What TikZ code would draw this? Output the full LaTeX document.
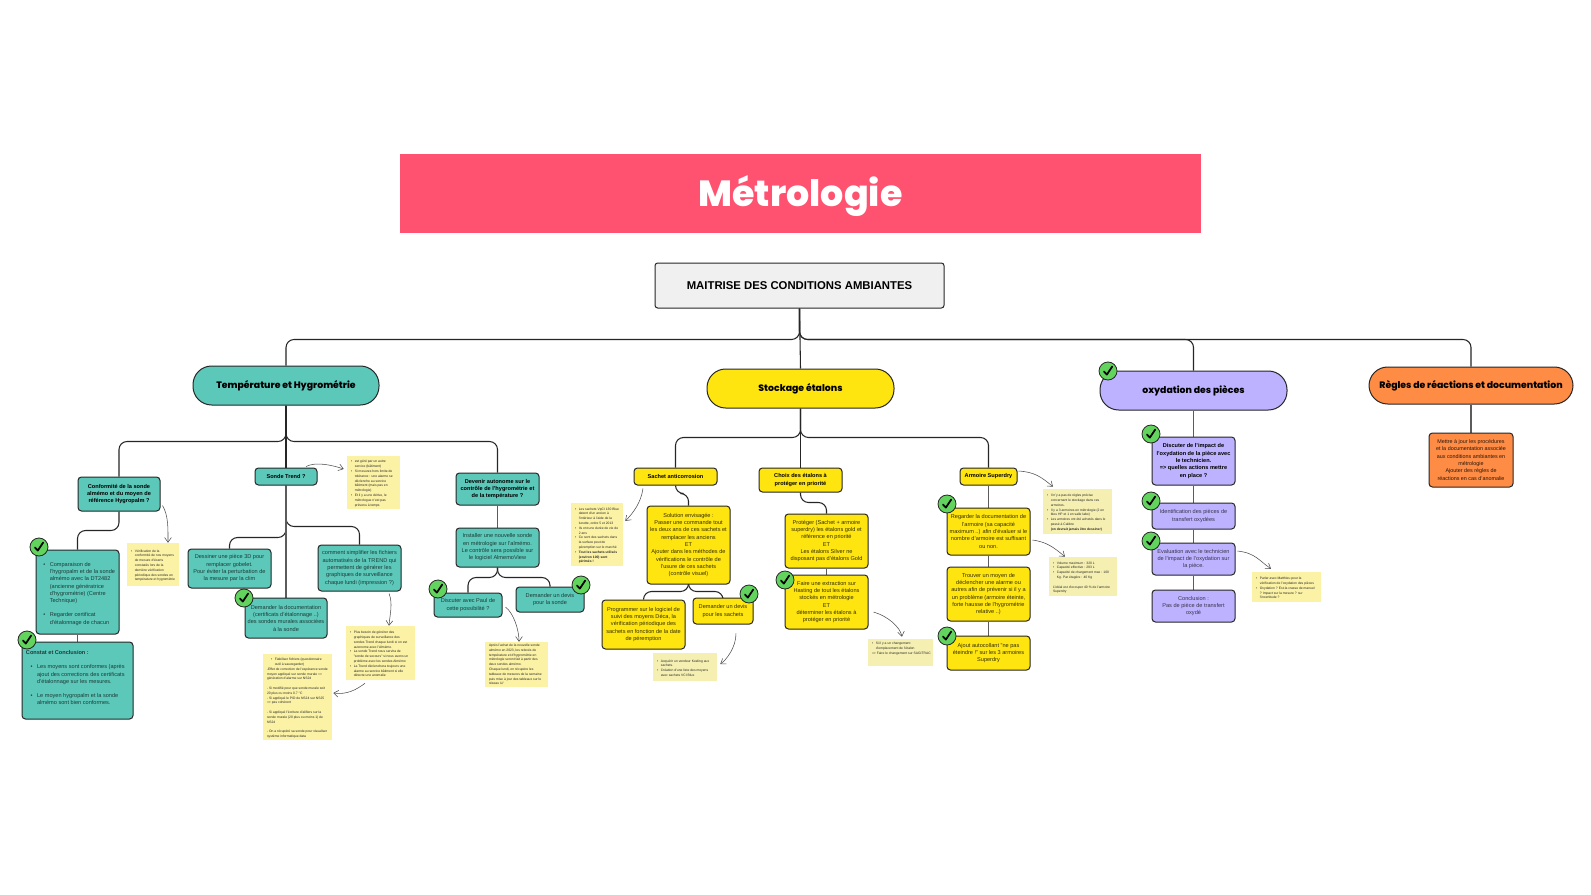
\documentclass[tikz,border=0pt]{standalone}
\usepackage{fontspec}
\setmainfont{Liberation Sans}
\newfontfamily\popf[BoldFont={Poppins ExtraBold}]{Poppins}
\usetikzlibrary{arrows.meta,backgrounds,calc}
\definecolor{cteal}{HTML}{5CC8B9}
\definecolor{cyell}{HTML}{FFE510}
\definecolor{cviol}{HTML}{BDB2FF}
\definecolor{coran}{HTML}{FF8C45}
\definecolor{cred}{HTML}{FF5270}
\definecolor{cnote}{HTML}{FBF2A6}
\definecolor{cnoteb}{HTML}{F5F0B2}
\definecolor{cline}{HTML}{262626}
\definecolor{cgreen}{HTML}{62D45E}
\newcommand{\mybox}[7]{%
 \pgfmathsetmacro\cxx{(#3+#5)/2}\pgfmathsetmacro\cyy{(#4+#6)/2}%
 \pgfmathsetmacro\ww{(#5-#3)*0.75}\pgfmathsetmacro\hh{(#6-#4)*0.75}%
 \node[#2,minimum width=\ww pt,minimum height=\hh pt] (#1) at (\cxx,\cyy) {#7};}
\newcommand{\itm}[2][0pt]{\par\leftskip=#1\relax\noindent\hangindent=1.15em\hangafter=1\makebox[1.15em][l]{•}#2\par}
\newcommand{\chk}[3]{%
 \node[chkmark] (#1) at (#2,#3) {};
 \draw[chkstroke] ([shift={(-4,0.5)}]#1.center) -- ([shift={(-1.2,3.6)}]#1.center) -- ([shift={(4.2,-4.5)}]#1.center);}
\tikzset{
 wrap/.style={text width=\ww pt-6pt},
 boxb/.style={draw=cline,line width=0.75pt,rounded corners=2.6pt,inner xsep=0pt,inner ysep=0pt,align=center,font=\fontsize{4.2}{5.5}\selectfont},
 tealb/.style={boxb,fill=cteal,text=black!70!cteal},
 yellb/.style={boxb,fill=cyell,text=black!80!cyell},
 violb/.style={boxb,fill=cviol,text=black!70!cviol},
 oranb/.style={boxb,fill=coran,text=black!85!coran,font=\fontsize{4.05}{5.5}\selectfont},
 headb/.style={font=\bfseries\fontsize{4.2}{5.55}\selectfont,text=black},
 pillb/.style={boxb,rounded corners=14pt,font=\popf\bfseries\fontsize{7}{8}\selectfont,text=black},
 noteb/.style={wrap,fill=cnote,inner xsep=0pt,inner ysep=0pt,align=flush left,font=\fontsize{2.5}{3.6}\selectfont,text=black!85},
 noteq/.style={noteb,fill=cnoteb},
 conn/.style={draw=cline,line width=0.8pt,rounded corners=6pt},
 conng/.style={draw=cline!75,line width=1.1pt},
 aro/.style={draw=black!70,line width=0.4pt,-{Straight Barb[length=3.5pt,width=5pt]}},
 chkmark/.style={circle,draw=cline,line width=0.6pt,fill=cgreen,minimum size=13.5pt,inner sep=0pt},
 chkstroke/.style={draw=black,line width=1.3pt,line cap=round,line join=round},
}
\begin{document}
\begin{tikzpicture}[x=0.75pt,y=-0.75pt]
\useasboundingbox (0,0) rectangle (1591,895);
% title
\mybox{title}{fill=cred,inner sep=0pt,align=center,font=\popf\bfseries\fontsize{27.3}{30}\selectfont,text=white}{400}{154}{1201}{233}{\raisebox{-9.8pt}[12pt][12pt]{Métrologie}}
\mybox{maitrise}{boxb,fill=black!6,font=\bfseries\fontsize{8.5}{9}\selectfont,text=black,rounded corners=2pt}{655}{263}{944}{308}{MAITRISE DES CONDITIONS AMBIANTES}
% pills
\mybox{temp}{pillb,fill=cteal}{193}{366}{379}{405}{Température et Hygrométrie}
\mybox{stock}{pillb,fill=cyell}{707}{369}{894}{408}{Stockage étalons}
\mybox{oxy}{pillb,fill=cviol}{1100}{371}{1287}{410}{oxydation des pièces}
\mybox{regles}{pillb,fill=coran}{1369}{367}{1573}{404}{Règles de réactions et documentation}
% teal
\mybox{conf}{tealb,headb}{78}{477}{160}{511}{Conformité de la sonde\\almémo et du moyen de\\référence Hygropalm ?}
\mybox{compa}{tealb,wrap,align=flush left}{36}{550}{119}{634}{\itm[2.5pt]{Comparaison de\newline l'hygropalm et de la sonde\newline almémo avec la DT2482\newline (ancienne génératrice\newline d'hygrométrie) (Centre\newline Technique)}\vspace{5pt}\itm[2.5pt]{Regarder certificat\newline d'étalonnage de chacun}}
\mybox{constat}{tealb,wrap,align=flush left}{22}{642}{133}{719}{{\bfseries Constat et Conclusion :}\par\vspace{5pt}\itm[3.5pt]{Les moyens sont conformes (après ajout des corrections des certificats d'étalonnage sur les mesures.}\vspace{5pt}\itm[3.5pt]{Le moyen hygropalm et la sonde almémo sont bien conformes.}\vspace{4pt}}
\mybox{trend}{tealb,headb}{255}{468}{317}{485}{Sonde Trend ?}
\mybox{dess}{tealb}{188}{549}{271}{588}{Dessiner une pièce 3D pour\\remplacer gobelet.\\Pour éviter la perturbation de\\la mesure par la clim}
\mybox{docu}{tealb}{245}{598}{327}{638}{Demander la documentation\\(certificats d'étalonnage ..)\\des sondes murales associées\\à la sonde}
\mybox{comm}{tealb}{318}{545}{401}{591}{comment simplifier les fichiers\\automatisés de la TREND qui\\permettent de générer les\\graphiques de surveillance\\chaque lundi (impression ?)}
\mybox{dev}{tealb,headb}{456}{473}{539}{505}{Devenir autonome sur le\\contrôle de l'hygrométrie et\\de la température ?}
\mybox{inst}{tealb}{456}{528}{539}{567}{Installer une nouvelle sonde\\en métrologie sur l'almémo.\\Le contrôle sera possible sur\\le logiciel AlmemoView}
\mybox{paul}{tealb}{434}{593}{502}{617}{Discuter avec Paul de\\cette possibilité ?}
\mybox{devis}{tealb}{516}{587}{584}{612}{Demander un devis\\pour la sonde}
% yellow
\mybox{sachet}{yellb,headb}{634}{468}{717}{485}{Sachet anticorrosion}
\mybox{solu}{yellb}{647}{506}{730}{584}{Solution envisagée :\\Passer une commande tout\\les deux ans de ces sachets et\\remplacer les anciens\\ET\\Ajouter dans les méthodes de\\vérifications le contrôle de\\l'usure de ces sachets\\(contrôle visuel)}
\mybox{prog}{yellb}{602}{600}{685}{649}{Programmer sur le logiciel de\\suivi des moyens Déca, la\\vérification périodique des\\sachets en fonction de la date\\de péremption}
\mybox{devs}{yellb}{693}{598}{753}{624}{Demander un devis\\pour les sachets}
\mybox{choix}{yellb,headb}{759}{468}{842}{492}{Choix des étalons à\\protéger en priorité}
\mybox{prot}{yellb}{785}{514}{868}{568}{Protéger (Sachet + armoire\\superdry) les étalons gold et\\référence en priorité\\ET\\Les étalons Silver ne\\disposant pas d'étalons Gold}
\mybox{faire}{yellb}{785}{575}{868}{629}{Faire une extraction sur\\Hasting de tout les étalons\\stockés en métrologie\\ET\\déterminer les étalons à\\protéger en priorité}
\mybox{arm}{yellb,headb}{960}{468}{1017}{485}{Armoire Superdry}
\mybox{reg}{yellb}{947}{508}{1030}{555}{Regarder la documentation de\\l'armoire (sa capacité\\maximum ..) afin d'évaluer si le\\nombre d'armoire est suffisant\\ou non.}
\mybox{trou}{yellb}{947}{567}{1030}{621}{Trouver un moyen de\\déclencher une alarme ou\\autres afin de prévenir si il y a\\un problème (armoire éteinte,\\forte hausse de l'hygrométrie\\relative ..)}
\mybox{ajout}{yellb}{947}{636}{1030}{670}{Ajout autocollant "ne pas\\éteindre !" sur les 3 armoires\\Superdry}
% violet
\mybox{impact}{violb,headb}{1152}{437}{1235}{485}{Discuter de l'impact de\\l'oxydation de la pièce avec\\le technicien.\\=> quelles actions mettre\\en place ?}
\mybox{ident}{violb}{1152}{503}{1235}{529}{Identification des pièces de\\transfert oxydées}
\mybox{eval}{violb}{1152}{543}{1235}{575}{Evaluation avec le technicien\\de l'impact de l'oxydation sur\\la pièce.}
\mybox{concl}{violb}{1152}{590}{1235}{622}{Conclusion :\\Pas de pièce de transfert\\oxydé}
% orange
\mybox{mettre}{oranb}{1429}{433}{1513}{487}{Mettre à jour les procédures\\et la documentation associée\\aux conditions ambiantes en\\métrologie\\Ajouter des règles de\\réactions en cas d'anomalie}
% notes
\mybox{nverif}{noteb}{127}{543}{179}{586}{\itm{Vérification de la conformité de nos moyens de mesure d'écarts constatés lors de la dernière vérification périodique des sondes en température et hygrométrie}}
\mybox{ntrend}{noteb}{347}{456}{400}{509}{\itm{est géré par un autre service (bâtiment)}\itm{Si mesures hors limite de tolérance : une alarme se déclenche au service bâtiment (mais pas en métrologie)}\itm{Et il y a une dérive, le métrologue n'est pas prévenu à temps}}
\mybox{npas}{noteb}{346}{626}{415}{680}{\itm{Plus besoin de générer des graphiques de surveillance des sondes Trend chaque lundi si on est autonome avec l'Almémo.}\itm{La sonde Trend nous servira de "sonde de secours" si nous avons un problème avec les sondes Almémo}\itm{La Trend déclenchera toujours une alarme au service bâtiment si elle détecte une anomalie}}
\mybox{nfiab}{noteb}{263}{654}{332}{740}{\itm[3pt]{Fiabiliser fichiers (questionnaire outil à sauvegarder)}\leftskip=0pt -Effet de correction de l'espérance sonde moyen appliqué sur sonde murale => génération d'alarme sur NS24\par\vspace{3.6pt}- Si modifié pour que sonde murale soit 20 plus ou moins 0.7 °C\par - Si appliqué le PID de NS24 sur NS25 => pas cohérent\par\vspace{3.6pt}- Si appliqué l'écriture d'alifiers sur la sonde murale (20 plus ou moins 1) de NS24\par\vspace{3.6pt}- On a récupéré sa sonde pour visualiser système informatique data}
\mybox{ndisc}{noteb}{485}{642}{548}{687}{Après l'achat de la nouvelle sonde almémo en 2023, les relevés de température et d'hygrométrie en métrologie seront fait à partir des deux sondes almémo.\par Chaque lundi, on récupère les tableaux de mesures de la semaine puis mise à jour des tableaux sur le réseau U/}
\mybox{nsach}{noteb}{571}{503}{623}{566}{\itm{Les sachets VpCI 130 Blue datent d'un ancien à l'intérieur à l'aide de la lunette, ordre 5 et 2013}\itm{Ils ont une durée de vie de 2 ans}\itm{Ce sont des sachets dans la surface peut de péremption sur le marché}\itm{\bfseries Tout les sachets utilisés (environ 100) sont périmés !}}
\mybox{ndevs}{noteq}{653}{653}{717}{681}{\itm{Acquérir un vendeur Keeling aux sachets.}\itm{Création d'une liste des moyens avec sachets VCI Blue}}
\mybox{nfaire}{noteq}{868}{639}{933}{666}{\itm{Si il y a un changement d'emplacement de l'étalon}\mbox{=> Faire le changement sur SAGITRAC}\vspace{8pt}}
\mybox{narm}{noteq}{1043}{489}{1112}{534}{\itm{Il n'y a pas de règles précise concernant le stockage dans ces armoires.}\itm{Il y a 3 armoires en métrologie (2 en bleu HP et 1 en salle labo)}\itm{Les armoires ont été achetés dans le passé à Calibre}\hspace*{1.15em}{\bfseries (on devrait jamais être dessiner)}}
\mybox{narb}{noteq}{1049}{557}{1117}{596}{\itm{Volume maximum : 320 L}\itm{Capacité effective : 293 L}\itm{Capacité de chargement max : 100 Kg. Par étagère : 40 Kg}\vspace{3.6pt}L'idéal est d'occuper 40 \% de l'armoire Superdry}
\mybox{noxy}{noteb}{1252}{572}{1321}{602}{\itm{Parler avec Matthieu pour la vérification de l'oxydation des pièces}\itm{Oxydation ? Est-la crasse de manuel ? Impact sur la mesure ? sur l'incertitude ?}}
% connectors
\begin{pgfonlayer}{background}
\fill[white] (0,0) rectangle (1591,895);
\draw[conn] (maitrise.south) -- ++(0,31) -| (temp.north);
\draw[conn] (maitrise.south) -- (stock.north);
\draw[conn] (maitrise.south) -- ++(0,31) -| (oxy.north);
\draw[conn] (maitrise.south) -- ++(0,31) -| (regles.north);
\draw[conn] (temp.south) -- (trend.north);
\draw[conn] (temp.south) -- ++(0,36) -| (conf.north);
\draw[conn] (temp.south) -- ++(0,36) -| (dev.north);
\draw[conn] (conf.south) -- ++(0,19) -| (compa.north);
\draw[conng] (compa.south) -- (constat.north);
\draw[conn] (trend.south) -- ++(0,52) -| (dess.north);
\draw[conn] (trend.south) -- ++(0,41) -| (comm.north);
\draw[conng] (trend.south) -- (docu.north);
\draw[conng] (dev.south) -- (inst.north);
\draw[conn] (inst.south) -- ++(0,10) -| (paul.north);
\draw[conn] (inst.south) -- ++(0,10) -| (devis.north);
\draw[conn] (stock.south) -- ++(0,29) -| (sachet.north);
\draw[conn] (stock.south) -- (choix.north);
\draw[conn] (stock.south) -- ++(0,29) -| (arm.north);
\draw[conn] (sachet.south) -- ++(0,8) -| (solu.north);
\draw[conn] (solu.south) -- ++(0,7) -| (prog.north);
\draw[conn] (solu.south) -- ++(0,7) -| (devs.north);
\draw[conn] (choix.south) -- ++(0,10) -| (prot.north);
\draw[conng] (prot.south) -- (faire.north);
\draw[conng] (arm.south) -- (reg.north);
\draw[conng] (reg.south) -- (trou.north);
\draw[conng] (trou.south) -- (ajout.north);
\draw[conng] (oxy.south) -- (impact.north);
\draw[conng] (impact.south) -- (ident.north);
\draw[conng] (ident.south) -- (eval.north);
\draw[conng] (eval.south) -- (concl.north);
\draw[conng] (regles.south) -- (mettre.north);
\end{pgfonlayer}
% note arrows
\draw[aro] ([shift={(2,-6)}]conf.south east) .. controls +(6,10) and +(0,-14) .. ([shift={(15,0)}]nverif.north);
\draw[aro] ([shift={(20,-1)}]trend.north) .. controls +(10,-5) and +(-12,-4) .. ([shift={(-3,-13.5)}]ntrend.west);
\draw[aro] ([shift={(29.5,2)}]comm.south) .. controls +(4,10) and +(1,-12) .. ([shift={(8.5,0)}]npas.north);
\draw[aro] ([shift={(-15.5,3)}]npas.south) .. controls +(-8,6) and +(14,2) .. ([shift={(1,-4)}]nfiab.east);
\draw[aro] ([shift={(3,2)}]paul.east) .. controls +(8,6) and +(0,-12) .. ([shift={(2.5,0)}]ndisc.north);
\draw[aro] ([shift={(-32.5,3)}]sachet.south) .. controls +(-2,14) and +(8,-8) .. ([shift={(2,-13.5)}]nsach.east);
\draw[aro] ([shift={(13,9)}]devs.south) .. controls +(0,14) and +(6,-4) .. ([shift={(3,-3)}]ndevs.east);
\draw[aro] ([shift={(5,10)}]faire.east) .. controls +(14,4) and +(-2,-10) .. ([shift={(1.5,-2)}]nfaire.north);
\draw[aro] ([shift={(1,-5.5)}]arm.east) .. controls +(16,1) and +(-12,-10) .. ([shift={(-24.5,-2)}]narm.north);
\draw[aro] ([shift={(2,8.5)}]reg.east) .. controls +(14,2) and +(-12,-10) .. ([shift={(-18,0)}]narb.north);
\draw[aro] ([shift={(2,-8)}]eval.east) .. controls +(18,2) and +(-12,-8) .. ([shift={(-15.5,-3)}]noxy.north);
% checks
\chk{ck1}{1108}{371}
\chk{ck2}{39}{547}
\chk{ck3}{27}{640}
\chk{ck4}{244}{598}
\chk{ck5}{438}{589}
\chk{ck6}{581}{585}
\chk{ck7}{749}{594}
\chk{ck8}{785}{580}
\chk{ck9}{947}{504}
\chk{ck10}{947}{636}
\chk{ck11}{1151}{434}
\chk{ck12}{1151}{501}
\chk{ck13}{1151}{541}
\end{tikzpicture}
\end{document}
